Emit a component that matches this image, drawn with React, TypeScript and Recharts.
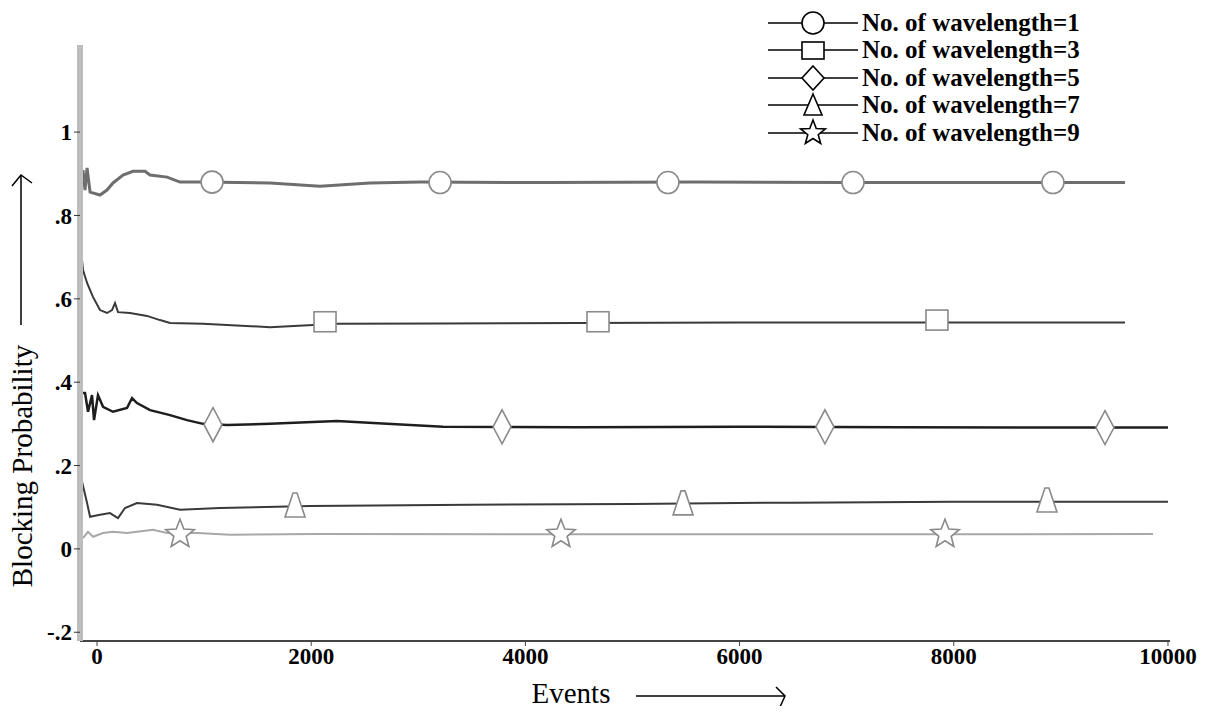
import { ComposedChart, Line, Scatter, XAxis, YAxis, Legend } from "recharts";

const FONT = '"Liberation Serif", "Times New Roman", serif';

const SERIES_NAMES = [
  "No. of wavelength=1",
  "No. of wavelength=3",
  "No. of wavelength=5",
  "No. of wavelength=7",
  "No. of wavelength=9",
];

const X_TICKS = [0, 2000, 4000, 6000, 8000, 10000];
const Y_TICKS = [-0.2, 0, 0.2, 0.4, 0.6, 0.8, 1];

// wavelength = 1
const w1Events = [-131, -112, -93, -65, 28, 93, 149, 243, 336, 448, 495, 654, 775, 980, 1615, 2082, 2549, 3016, 4200, 5600, 7000, 8400, 9599];
const w1Blocking = [0.909, 0.861, 0.914, 0.856, 0.849, 0.861, 0.878, 0.897, 0.906, 0.906, 0.897, 0.892, 0.88, 0.88, 0.878, 0.87, 0.878, 0.88, 0.879, 0.88, 0.879, 0.879, 0.879];
const w1MarkEvents = [1074, 3203, 5331, 7059, 8926];
const w1MarkBlocking = [0.88, 0.879, 0.879, 0.879, 0.879];

// wavelength = 3
const w3Events = [-140, -131, -93, -37, 28, 93, 140, 168, 196, 308, 467, 588, 682, 990, 1615, 2241, 3200, 4500, 6000, 7500, 9599];
const w3Blocking = [0.693, 0.669, 0.638, 0.604, 0.573, 0.566, 0.573, 0.59, 0.568, 0.566, 0.559, 0.549, 0.542, 0.54, 0.532, 0.54, 0.541, 0.542, 0.543, 0.543, 0.543];
const w3MarkEvents = [2129, 4678, 7843];
const w3MarkBlocking = [0.545, 0.545, 0.549];

// wavelength = 5
const w5Events = [-131, -112, -84, -47, -28, 9, 56, 149, 280, 327, 373, 495, 682, 840, 990, 1214, 1615, 2241, 2708, 3231, 4500, 6000, 7500, 9000, 10000];
const w5Blocking = [0.374, 0.374, 0.329, 0.369, 0.309, 0.369, 0.341, 0.329, 0.338, 0.362, 0.35, 0.333, 0.321, 0.309, 0.3, 0.297, 0.3, 0.307, 0.3, 0.293, 0.292, 0.293, 0.292, 0.291, 0.291];
const w5MarkEvents = [1083, 3782, 6797, 9412];
const w5MarkBlocking = [0.298, 0.293, 0.293, 0.291];

// wavelength = 7
const w7Events = [-140, -93, -65, 28, 121, 196, 261, 373, 560, 775, 1148, 1681, 1989, 3483, 5000, 6500, 8000, 10000];
const w7Blocking = [0.161, 0.11, 0.077, 0.082, 0.086, 0.074, 0.098, 0.11, 0.106, 0.094, 0.098, 0.101, 0.103, 0.106, 0.108, 0.111, 0.113, 0.113];
const w7MarkEvents = [1849, 5472, 8870];
const w7MarkBlocking = [0.103, 0.108, 0.115];

// wavelength = 9
const w9Events = [-131, -84, -37, 56, 149, 280, 523, 654, 934, 1242, 2054, 4000, 6000, 8000, 9860];
const w9Blocking = [0.026, 0.041, 0.029, 0.038, 0.041, 0.038, 0.046, 0.038, 0.038, 0.034, 0.036, 0.035, 0.035, 0.035, 0.036];
const w9MarkEvents = [775, 4332, 7918];
const w9MarkBlocking = [0.035, 0.035, 0.035];

const toPoints = (xs: number[], ys: number[]) => xs.map((x, i) => ({ x, y: ys[i] }));

type Kind = "circle" | "square" | "diamond" | "triangle" | "star";

function starPoints(cx: number, cy: number, ro: number, ri: number) {
  const pts: string[] = [];
  for (let i = 0; i < 10; i++) {
    const r = i % 2 === 0 ? ro : ri;
    const a = -Math.PI / 2 + (i * Math.PI) / 5;
    pts.push(`${cx + r * Math.cos(a)},${cy + r * Math.sin(a)}`);
  }
  return pts.join(" ");
}

function Marker({ kind, cx, cy, stroke, legend }: { kind: Kind; cx: number; cy: number; stroke: string; legend?: boolean }) {
  const common = { fill: "#fff", stroke, strokeWidth: 1.6 };
  if (kind === "circle") return <circle cx={cx} cy={cy} r={11} {...common} />;
  if (kind === "square")
    return legend
      ? <rect x={cx - 11} y={cy - 8} width={22} height={17} {...common} />
      : <rect x={cx - 11} y={cy - 10} width={22} height={20} {...common} />;
  if (kind === "diamond") {
    const hw = legend ? 11 : 9;
    const hh = legend ? 12 : 17;
    return <polygon points={`${cx},${cy - hh} ${cx + hw},${cy} ${cx},${cy + hh} ${cx - hw},${cy}`} {...common} />;
  }
  if (kind === "triangle") {
    return legend
      ? <polygon points={`${cx},${cy - 11} ${cx + 9},${cy + 10} ${cx - 9},${cy + 10}`} {...common} />
      : <polygon points={`${cx - 2},${cy - 13} ${cx + 2},${cy - 13} ${cx + 10},${cy + 11} ${cx - 10},${cy + 11}`} {...common} />;
  }
  return <polygon points={starPoints(cx, cy, legend ? 13 : 15, legend ? 5.5 : 6.5)} {...common} />;
}

const KINDS: Kind[] = ["circle", "square", "diamond", "triangle", "star"];

function LegendBox() {
  return (
    <div>
      {SERIES_NAMES.map((name, i) => (
        <div key={name} style={{ display: "flex", alignItems: "center", height: 27.5 }}>
          <svg width={96} height={28} style={{ overflow: "visible", flex: "none" }}>
            <line x1={2} x2={92} y1={14} y2={14} stroke="#000" strokeWidth={1.5} />
            <Marker kind={KINDS[i]} cx={47} cy={14} stroke="#000" legend />
          </svg>
          <span style={{ fontFamily: FONT, fontWeight: 700, fontSize: 25, color: "#000", whiteSpace: "nowrap", lineHeight: "28px" }}>
            {name}
          </span>
        </div>
      ))}
    </div>
  );
}

function YLabel() {
  return (
    <g>
      <text x={0} y={0} transform="translate(32, 466) rotate(-90)" textAnchor="middle"
        style={{ fontFamily: FONT, fontSize: 29, fill: "#000" }}>
        Blocking Probability
      </text>
      <line x1={21} x2={21} y1={325} y2={175} stroke="#000" strokeWidth={1.5} />
      <polyline points="12,186 21,175 32,183" fill="none" stroke="#000" strokeWidth={1.5} />
    </g>
  );
}

function XLabel() {
  return (
    <g>
      <text x={571} y={703} textAnchor="middle" style={{ fontFamily: FONT, fontSize: 29, fill: "#000" }}>
        Events
      </text>
      <line x1={636} x2={785} y1={696} y2={696} stroke="#000" strokeWidth={1.5} />
      <polyline points="776,687 785,696 780,707" fill="none" stroke="#000" strokeWidth={1.5} />
    </g>
  );
}

const fmtY = (v: number) => {
  if (Math.abs(v) < 1e-9) return "0";
  if (Math.abs(v - 1) < 1e-9) return "1";
  return v.toFixed(1).replace("0.", ".");
};

const SERIES = [
  { line: toPoints(w1Events, w1Blocking), marks: toPoints(w1MarkEvents, w1MarkBlocking), color: "#6e6e6e", width: 3 },
  { line: toPoints(w3Events, w3Blocking), marks: toPoints(w3MarkEvents, w3MarkBlocking), color: "#3a3a3a", width: 2 },
  { line: toPoints(w5Events, w5Blocking), marks: toPoints(w5MarkEvents, w5MarkBlocking), color: "#1e1e1e", width: 2.5 },
  { line: toPoints(w7Events, w7Blocking), marks: toPoints(w7MarkEvents, w7MarkBlocking), color: "#3a3a3a", width: 2 },
  { line: toPoints(w9Events, w9Blocking), marks: toPoints(w9MarkEvents, w9MarkBlocking), color: "#a8a8a8", width: 2 },
];

export default function App() {
  const tickStyle = { fill: "#000", fontSize: 23, fontWeight: 700, fontFamily: FONT };
  return (
    <div style={{ margin: -8, width: 1209, height: 714, background: "#fff", position: "relative" }}>
      <ComposedChart width={1209} height={714} margin={{ top: 45, right: 39, left: 0, bottom: 0 }}>
        <XAxis type="number" dataKey="x" domain={[-159, 10019]} ticks={X_TICKS} allowDataOverflow interval={0}
          height={73} axisLine={{ stroke: "#444", strokeWidth: 2 }} tickLine={{ stroke: "#444" }} tickSize={5}
          tick={tickStyle} label={<XLabel />} />
        <YAxis type="number" domain={[-0.221, 1.209]} ticks={Y_TICKS} allowDataOverflow interval={0}
          width={80} axisLine={{ stroke: "#bdbdbd", strokeWidth: 6 }} tickLine={{ stroke: "#333" }} tickSize={6}
          tick={tickStyle} tickFormatter={fmtY} label={<YLabel />} />
        <Legend layout="vertical" align="center" verticalAlign="middle"
          wrapperStyle={{ position: "absolute", top: 9, left: 766, width: 340, height: 140 }}
          content={() => <LegendBox />} />
        {SERIES.map((s, i) => (
          <Line key={`l${i}`} data={s.line} dataKey="y" type="linear" stroke={s.color} strokeWidth={s.width}
            dot={false} activeDot={false} isAnimationActive={false} name={SERIES_NAMES[i]} />
        ))}
        {SERIES.map((s, i) => (
          <Scatter key={`m${i}`} data={s.marks} dataKey="y" legendType="none" isAnimationActive={false}
            shape={(p: any) => <Marker kind={KINDS[i]} cx={p.cx} cy={p.cy} stroke="#8a8a8a" />} />
        ))}
      </ComposedChart>
    </div>
  );
}
